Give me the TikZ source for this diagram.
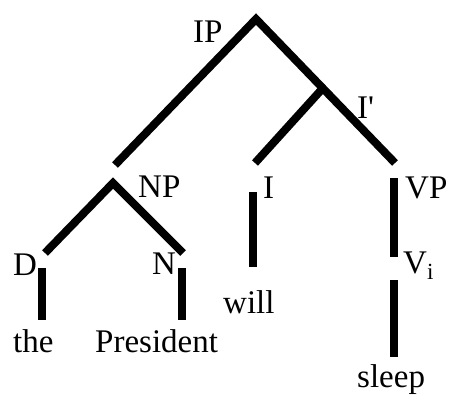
\documentclass[tikz,border=0pt]{standalone}
\usepackage{fontspec}
\setmainfont{Liberation Serif}
\usepackage{tikz}

\begin{document}
\begin{tikzpicture}[x=1pt,y=-1pt,line join=miter,
  branch/.style={line width=8pt},
  lab/.style={anchor=base west,inner sep=0pt,font=\fontsize{33}{36}\selectfont}]
  \useasboundingbox (0,0) rectangle (461,396);
  % branching points
  \coordinate (IP) at (256,19);
  \coordinate (IPl) at (115,165);
  \coordinate (IPr) at (395,163);
  \coordinate (Ibar) at (323,88);
  \coordinate (Il) at (255,163);
  \coordinate (NP) at (113,183);
  \coordinate (Dl) at (45,253);
  \coordinate (Nr) at (183,253);
  % vertical bars
  \coordinate (Dtop) at (42,268);   \coordinate (Dbot) at (42,320);
  \coordinate (Ntop) at (182,268);  \coordinate (Nbot) at (182,320);
  \coordinate (Itop) at (253,192);  \coordinate (Ibot) at (253,267);
  \coordinate (VPtop) at (394,178); \coordinate (VPbot) at (394,257);
  \coordinate (Vtop) at (394,280);  \coordinate (Vbot) at (394,357);
  \draw[branch] (IPl) -- (IP) -- (IPr);
  \draw[branch] (Ibar) -- (Il);
  \draw[branch] (Dl) -- (NP) -- (Nr);
  \draw[branch] (Dtop) -- (Dbot);
  \draw[branch] (Ntop) -- (Nbot);
  \draw[branch] (Itop) -- (Ibot);
  \draw[branch] (VPtop) -- (VPbot);
  \draw[branch] (Vtop) -- (Vbot);
  % labels
  \node[lab] (lIP) at (193,43) {IP};
  \node[lab] (lIbar) at (357,118) {I\textquotesingle};
  \node[lab] (lNP) at (138,197) {NP};
  \node[lab] (lI) at (263,198) {I};
  \node[lab] (lVP) at (405,198) {VP};
  \node[lab] (lD) at (13,275) {D};
  \node[lab] (lN) at (152,274) {N};
  \node[lab] (lV) at (403,273) {V\textsubscript{i}};
  \node[lab] (the) at (13,352) {the};
  \node[lab] (pres) at (95,352) {President};
  \node[lab] (will) at (223,313) {will};
  \node[lab] (sleep) at (357,387) {sleep};
\end{tikzpicture}
\end{document}
